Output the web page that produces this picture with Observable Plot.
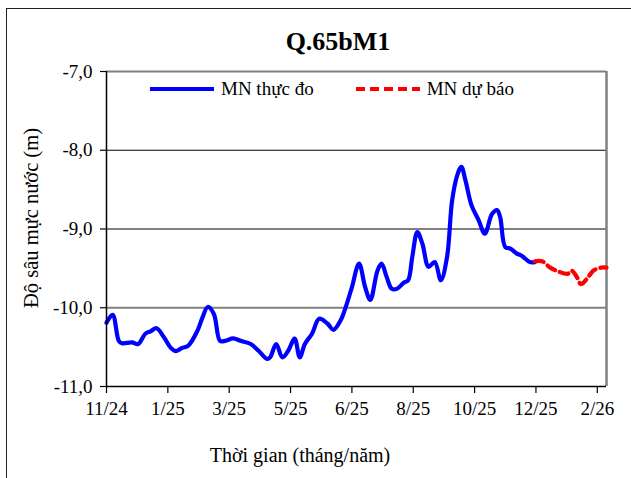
<!DOCTYPE html>
<html>
<head>
<meta charset="utf-8">
<script src="https://cdn.jsdelivr.net/npm/d3@7"></script>
<script src="https://cdn.jsdelivr.net/npm/@observablehq/plot@0.6"></script>
<style>
  html, body { margin: 0; padding: 0; background: #fff; }
  #wrap { position: relative; width: 631px; height: 478px; overflow: hidden; background: #fff; font-family: "Liberation Serif", "Times New Roman", Times, serif; color: #000; }
  #border { position: absolute; left: 6px; top: 8px; width: 700px; height: 600px; border: 1.5px solid #222; box-sizing: border-box; }
  #chart { position: absolute; left: 0; top: 0; }
  .txt { position: absolute; white-space: nowrap; line-height: 1; }
  #title { left: 0; width: 676px; top: 29px; text-align: center; font-weight: bold; font-size: 26px; }
  #xtitle { left: 0; width: 600px; top: 445px; text-align: center; font-size: 20px; }
  #ytitle { left: 31px; top: 218px; font-size: 20.5px; transform: translate(-50%, -50%) rotate(-90deg); }
  #legend { position: absolute; left: 150px; top: 79px; display: flex; align-items: center; font-size: 19px; line-height: 1; }
  #legend svg { display: block; }
</style>
</head>
<body>
<div id="wrap">
  <div id="border"></div>
  <div id="chart"></div>
  <div id="title" class="txt">Q.65bM1</div>
  <div id="legend"></div>
  <div id="ytitle" class="txt">Độ sâu mực nước (m)</div>
  <div id="xtitle" class="txt">Thời gian (tháng/năm)</div>
</div>
<script>
// Observed water level (MN thực đo)
const obsDates = [
  "2024-11-02","2024-11-08","2024-11-14","2024-11-17","2024-11-27","2024-12-03","2024-12-10","2024-12-15",
  "2024-12-21","2024-12-28","2025-01-04","2025-01-09","2025-01-15","2025-01-21","2025-01-30","2025-02-04",
  "2025-02-09","2025-02-15","2025-02-21","2025-02-26","2025-03-06","2025-03-13","2025-03-23","2025-03-31",
  "2025-04-08","2025-04-11","2025-04-17","2025-04-23","2025-04-29","2025-05-05","2025-05-10","2025-05-15",
  "2025-05-22","2025-05-29","2025-06-06","2025-06-12","2025-06-19","2025-06-25","2025-06-30","2025-07-07",
  "2025-07-13","2025-07-18","2025-07-25","2025-07-29","2025-08-03","2025-08-08","2025-08-13","2025-08-20",
  "2025-08-24","2025-08-28","2025-09-02","2025-09-07","2025-09-13","2025-09-19","2025-09-25","2025-10-01",
  "2025-10-06","2025-10-11","2025-10-15","2025-10-19","2025-10-25","2025-11-01","2025-11-07","2025-11-14",
  "2025-11-19","2025-11-22","2025-11-27","2025-12-02","2025-12-08","2025-12-13","2025-12-21","2025-12-26"
];
const obsValues = [
  -10.19,-10.09,-10.42,-10.45,-10.44,-10.46,-10.33,-10.30,
  -10.26,-10.37,-10.51,-10.55,-10.51,-10.48,-10.29,-10.12,
  -9.99,-10.08,-10.42,-10.42,-10.39,-10.42,-10.46,-10.55,
  -10.65,-10.63,-10.46,-10.63,-10.54,-10.39,-10.63,-10.46,
  -10.33,-10.14,-10.20,-10.28,-10.16,-9.95,-9.74,-9.44,
  -9.74,-9.90,-9.53,-9.44,-9.61,-9.76,-9.76,-9.68,
  -9.65,-9.36,-9.04,-9.19,-9.48,-9.42,-9.65,-9.36,
  -8.64,-8.32,-8.21,-8.38,-8.70,-8.89,-9.06,-8.81,
  -8.76,-8.85,-9.23,-9.25,-9.31,-9.34,-9.42,-9.42
];
// Forecast water level (MN dự báo)
const fcDates = [
  "2025-12-26","2026-01-02","2026-01-10","2026-01-18","2026-01-27","2026-01-31",
  "2026-02-05","2026-02-09","2026-02-15","2026-02-21","2026-03-01","2026-03-06"
];
const fcValues = [-9.41,-9.41,-9.49,-9.54,-9.57,-9.53,-9.61,-9.70,-9.63,-9.53,-9.49,-9.49];

// Axes
const xDomain = ["2024-11-02","2026-03-06"];
const xTickDates = ["2024-11-02","2025-01-01","2025-03-02","2025-05-01","2025-06-30","2025-08-29","2025-10-28","2025-12-27","2026-02-25"];
const xTickLabels = ["11/24","1/25","3/25","5/25","6/25","8/25","10/25","12/25","2/26"];
const yDomain = [-11, -7];
const yTicks = [-7, -8, -9, -10, -11];

const series = ["MN thực đo", "MN dự báo"];
const colors = ["#0000ff", "#ff0000"];

const obs = obsDates.map((d, i) => ({date: new Date(d), value: obsValues[i]}));
const fc = fcDates.map((d, i) => ({date: new Date(d), value: fcValues[i]}));
const xd = xDomain.map(d => new Date(d));
const xt = xTickDates.map(d => new Date(d));
const serif = "'Liberation Serif', 'Times New Roman', Times, serif";

const chart = Plot.plot({
  width: 631,
  height: 478,
  marginLeft: 106,
  marginRight: 25,
  marginTop: 71,
  marginBottom: 92,
  style: {fontFamily: serif, fontSize: "19px", color: "#000", background: "transparent", overflow: "visible"},
  x: {type: "utc", domain: xd},
  y: {domain: yDomain},
  marks: [
    Plot.ruleY([-9, -10], {stroke: "#808080", strokeWidth: 2}),
    Plot.ruleY([-8], {stroke: "#000", strokeWidth: 1}),
    Plot.ruleY([-7], {stroke: "#808080", strokeWidth: 2}),
    Plot.ruleX([xd[1]], {stroke: "#808080", strokeWidth: 2.5}),
    Plot.line(obs, {x: "date", y: "value", stroke: colors[0], strokeWidth: 4.2, curve: "catmull-rom"}),
    Plot.line(fc, {x: "date", y: "value", stroke: colors[1], strokeWidth: 4.2, strokeDasharray: "9,5", curve: "catmull-rom"}),
    Plot.axisX({ticks: xt, tickFormat: d => xTickLabels[xt.findIndex(t => +t === +d)], tickSize: 7, tickPadding: 8, label: null, stroke: "#000", strokeWidth: 1.2, fontFamily: serif}),
    Plot.axisY({ticks: yTicks, tickFormat: d => d.toFixed(1).replace(".", ","), tickSize: 6, tickPadding: 8, label: null, stroke: "#000", strokeWidth: 1.2, fontFamily: serif}),
    Plot.ruleX([xd[0]], {stroke: "#000", strokeWidth: 1.5}),
    Plot.ruleY([yDomain[0]], {stroke: "#000", strokeWidth: 1.5})
  ]
});
document.getElementById("chart").appendChild(chart);

// Legend
const legend = document.getElementById("legend");
series.forEach((name, i) => {
  const ns = "http://www.w3.org/2000/svg";
  const svg = document.createElementNS(ns, "svg");
  svg.setAttribute("width", 64);
  svg.setAttribute("height", 8);
  const ln = document.createElementNS(ns, "line");
  ln.setAttribute("x1", 0); ln.setAttribute("x2", 64);
  ln.setAttribute("y1", 4); ln.setAttribute("y2", 4);
  ln.setAttribute("stroke", colors[i]);
  ln.setAttribute("stroke-width", 4);
  if (i === 1) ln.setAttribute("stroke-dasharray", "9,5");
  svg.appendChild(ln);
  const span = document.createElement("span");
  span.textContent = name;
  span.style.marginLeft = "7px";
  span.style.marginRight = i === 0 ? "42px" : "0";
  legend.appendChild(svg);
  legend.appendChild(span);
});
</script>
</body>
</html>
